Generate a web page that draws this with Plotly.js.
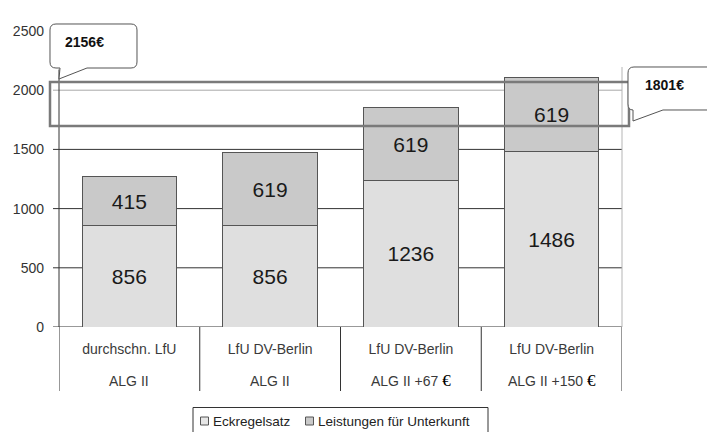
<!DOCTYPE html>
<html><head><meta charset="utf-8">
<script src="https://cdn.plot.ly/plotly-3.0.1.min.js"></script>
<style>html,body{margin:0;padding:0;background:#fff}#chart{width:707px;height:432px}</style>
</head><body><div id="chart"></div>
<script>
// ---- data ----
const topLabels = ['durchschn. LfU', 'LfU DV-Berlin', 'LfU DV-Berlin', 'LfU DV-Berlin'];
const bottomLabels = ['ALG II', 'ALG II', 'ALG II +67', 'ALG II +150'];
const euroSuffix = ['', '', '€', '€'];
const seriesNames = ['Eckregelsatz', 'Leistungen für Unterkunft'];
const eckregelsatz = [856, 856, 1236, 1486];
const unterkunft = [415, 619, 619, 619];
const yTicks = [0, 500, 1000, 1500, 2000, 2500];
const darkGrid = [0, 500, 1000, 1500];
const lightGrid = [2000];
const calloutTexts = ['2156€', '1801€'];
const highlightBand = [1698, 2069];

// ---- layout geometry (pixels -> paper) ----
const W = 707, H = 432, ML = 59, MR = 85, MT = 31, MB = 105;
const PW = W - ML - MR, PH = H - MT - MB;
const fx = X => (X - ML) / PW;
const fy = Y => (H - MB - Y) / PH;
const pt = (X, Y) => fx(X).toFixed(5) + ',' + fy(Y).toFixed(5);
function path(cmds) {
  return cmds.map(c => c[0] + (c.length > 1 ? ' ' + c.slice(1).map(p => pt(p[0], p[1])).join(' ') : '')).join(' ');
}

const idx = topLabels.map((_, i) => i);
const FONT = 'Liberation Sans, Arial, sans-serif';

const traces = [
  {type: 'bar', x: idx, y: eckregelsatz, name: seriesNames[0], showlegend: false,
   marker: {color: '#dfdfdf', line: {color: '#555', width: 1}},
   text: eckregelsatz.map(String), textposition: 'inside', insidetextanchor: 'middle',
   textfont: {size: 21, color: '#1a1a1a', family: FONT}, hoverinfo: 'y'},
  {type: 'bar', x: idx, y: unterkunft, name: seriesNames[1], showlegend: false,
   marker: {color: '#c9c9c9', line: {color: '#555', width: 1}},
   text: unterkunft.map(String), textposition: 'inside', insidetextanchor: 'middle',
   textfont: {size: 21, color: '#1a1a1a', family: FONT}, hoverinfo: 'y'}
];

const shapes = [];
darkGrid.forEach(v => shapes.push({type: 'line', xref: 'paper', yref: 'y', x0: fx(53), x1: 1, y0: v, y1: v,
  line: {color: '#333', width: 1}, layer: 'below'}));
lightGrid.forEach(v => shapes.push({type: 'line', xref: 'paper', yref: 'y', x0: fx(53), x1: 1, y0: v, y1: v,
  line: {color: '#a8a8a8', width: 1}, layer: 'below'}));
// y axis line and right border
shapes.push({type: 'line', xref: 'paper', yref: 'y', x0: 0, x1: 0, y0: 0, y1: 2175, line: {color: '#333', width: 1}});
shapes.push({type: 'line', xref: 'paper', yref: 'y', x0: 1, x1: 1, y0: 0, y1: 2196, line: {color: '#b5b5b5', width: 1}, layer: 'below'});
// category dividers under the axis
for (let i = 0; i <= topLabels.length; i++) {
  shapes.push({type: 'line', xref: 'x', yref: 'paper', x0: i - 0.5, x1: i - 0.5, y0: 0, y1: fy(391),
    line: {color: '#333', width: 1}});
}
// highlight band
shapes.push({type: 'rect', xref: 'paper', yref: 'y', x0: fx(50), x1: fx(629), y0: highlightBand[0], y1: highlightBand[1],
  line: {color: '#7a7a7a', width: 2.5}, layer: 'above'});
// callout 1
shapes.push({type: 'path', xref: 'paper', yref: 'paper', layer: 'above', fillcolor: '#fff',
  line: {color: '#555', width: 1},
  path: path([['M', [56, 24]], ['L', [131, 24]], ['Q', [137, 24], [137, 30]], ['L', [137, 62]], ['Q', [137, 68], [131, 68]],
    ['L', [87, 68]], ['L', [59, 79]], ['L', [60, 68]], ['L', [56, 68]], ['Q', [50, 68], [50, 62]], ['L', [50, 30]],
    ['Q', [50, 24], [56, 24]], ['Z']])});
// callout 2
shapes.push({type: 'path', xref: 'paper', yref: 'paper', layer: 'above', fillcolor: '#fff',
  line: {color: '#555', width: 1},
  path: path([['M', [634, 67]], ['L', [720, 67]], ['L', [720, 110]], ['L', [663, 110]], ['L', [633, 121]], ['L', [633, 110]],
    ['Q', [628, 110], [628, 104]], ['L', [628, 73]], ['Q', [628, 67], [634, 67]], ['Z']])});
// legend box (runs off the bottom edge) & swatches
shapes.push({type: 'rect', xref: 'paper', yref: 'paper', x0: fx(193), x1: fx(488), y0: fy(445), y1: fy(407.5),
  line: {color: '#333', width: 1}, fillcolor: '#fff'});
const swatchX = [200.5, 305.5];
const swatchColors = ['#e6e6e6', '#c9c9c9'];
swatchX.forEach((sx, i) => shapes.push({type: 'rect', xref: 'paper', yref: 'paper', x0: fx(sx), x1: fx(sx + 8),
  y0: fy(425), y1: fy(417), line: {color: '#555', width: 1}, fillcolor: swatchColors[i]}));

const annotations = [];
bottomLabels.forEach((t, i) => annotations.push({xref: 'x', yref: 'paper', x: i, y: fy(380.5), yanchor: 'middle',
  showarrow: false, font: {size: 14, color: '#3a3a3a', family: FONT},
  text: t + (euroSuffix[i] ? ' <span style="font-size:17px;font-family:Liberation Serif;fill:#000">' + euroSuffix[i] + '</span>' : '')}));
const calloutPos = [[63, 42], [643, 85]];
calloutTexts.forEach((t, i) => annotations.push({xref: 'paper', yref: 'paper', x: fx(calloutPos[i][0]), y: fy(calloutPos[i][1]),
  xanchor: 'left', yanchor: 'middle', showarrow: false, text: '<b>' + t + '</b>',
  font: {size: 14, color: '#111', family: FONT}}));
const legendTextX = [211, 316];
seriesNames.forEach((n, i) => annotations.push({xref: 'paper', yref: 'paper', x: fx(legendTextX[i]), y: fy(421),
  xanchor: 'left', yanchor: 'middle', showarrow: false, text: n, font: {size: 13.5, color: '#222', family: FONT}}));

const layout = {
  width: W, height: H,
  margin: {l: ML, r: MR, t: MT, b: MB},
  paper_bgcolor: '#fff', plot_bgcolor: '#fff',
  font: {family: FONT, color: '#333'},
  barmode: 'stack', bargap: 0.33,
  showlegend: false,
  xaxis: {tickvals: idx, ticktext: topLabels, range: [-0.5, topLabels.length - 0.5], showgrid: false, zeroline: false,
    showline: false, ticks: '', ticklabelstandoff: 12, tickfont: {size: 14, color: '#3a3a3a', family: FONT}},
  yaxis: {range: [0, 2500], tickvals: yTicks, ticktext: yTicks.map(String), showgrid: false, zeroline: false,
    showline: false, ticks: '', ticklabelstandoff: 14, tickfont: {size: 14, color: '#333', family: FONT}},
  shapes: shapes,
  annotations: annotations
};

Plotly.newPlot('chart', traces, layout, {displayModeBar: false, staticPlot: true});
</script>
</body></html>
